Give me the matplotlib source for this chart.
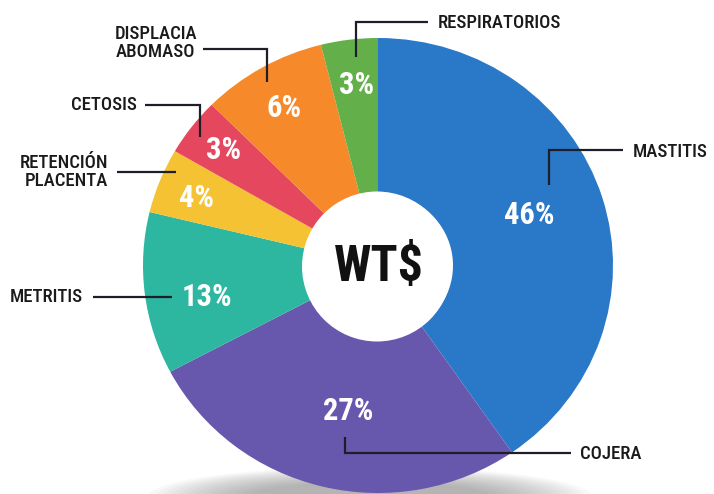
import matplotlib
matplotlib.use("Agg")
import matplotlib.pyplot as plt
from matplotlib.patches import Ellipse

# ---------------- data ----------------
categories = ["MASTITIS", "COJERA", "METRITIS", "RETENCIÓN\nPLACENTA",
              "CETOSIS", "DISPLACIA\nABOMASO", "RESPIRATORIOS"]
# printed percentages
percent_labels = [46, 27, 13, 4, 3, 6, 3]
# angular share of each slice as drawn in the picture (percent of the circle)
slice_shares = [40.3, 26.9, 11.5, 4.6, 4.1, 8.6, 3.9]
colors = ["#2a78c8", "#6858ad", "#2db6a0", "#f4c233", "#e5485e", "#f6892a", "#63b04b"]
center_text = "WT$"

# ---------------- layout (pixel coordinates of the 714x494 image) ----------------
W, H = 714, 494
r_h, r_v = 235.0, 227.5          # horizontal / vertical radii of the (slightly squashed) pie
k = r_v / r_h
cx, cy = 378.0, 265.5
hole_r = 75.0


def P(x, y):
    return x, (H - y) / k


pct_pos = [(529, 215), (348, 411), (207, 297), (197, 198), (224, 150), (284, 108), (357, 85)]

leaders = [
    [(549, 185), (549, 150), (623, 150)],
    [(345, 437), (345, 453), (571, 453)],
    [(93, 297), (172, 297)],
    [(117, 172), (176, 172)],
    [(145, 105), (200, 105), (200, 137)],
    [(203, 49), (267, 49), (267, 82)],
    [(356, 57), (356, 22), (428, 22)],
]
# (x, y, ha)
label_pos = [
    (633, 152, "left"),
    (580, 454, "left"),
    (83, 297, "right"),
    (108, 172, "right"),
    (137, 105, "right"),
    (197, 43, "right"),
    (438, 23, "left"),
]
label_align = ["left", "left", "right", "right", "right", "center", "left"]

FONT = ["Roboto Condensed", "PT Sans Narrow", "DejaVu Sans"]

fig = plt.figure(figsize=(W / 100, H / 100), dpi=100)
ax = fig.add_axes([0, 0, 1, 1])

# soft shadow under the pie
for i in range(14):
    f = i / 13.0
    e = Ellipse(P(370, 497), width=445 * (1 - 0.45 * f), height=(60 * (1 - 0.5 * f)) / k,
                facecolor="#7a7a7a", edgecolor="none", alpha=0.05, zorder=0)
    ax.add_patch(e)

wedges, _ = ax.pie(slice_shares, colors=colors, startangle=90, counterclock=False,
                   radius=r_h, center=P(cx, cy),
                   wedgeprops=dict(width=r_h - hole_r, edgecolor="none", linewidth=0),
                   frame=True)
for w in wedges:
    w.set_zorder(2)

# centre hole
ax.add_patch(Ellipse(P(cx - 1, cy + 1), 2 * hole_r, 2 * hole_r / k,
                     facecolor="white", edgecolor="none", zorder=3))
ax.text(*P(379, 268), center_text, ha="center", va="center", fontsize=36,
        fontweight="bold", color="#111111", family=FONT, zorder=4)

# percentage labels
for (x, y), v in zip(pct_pos, percent_labels):
    ax.text(*P(x, y), f"{v}%", ha="center", va="center", fontsize=22,
            fontweight="bold", color="white", family=FONT, zorder=5)

# leader lines and category labels
for pts in leaders:
    xs = [P(x, y)[0] for x, y in pts]
    ys = [P(x, y)[1] for x, y in pts]
    ax.plot(xs, ys, color="#1e1e2a", lw=1.6, solid_capstyle="butt",
            solid_joinstyle="miter", zorder=6)

for name, (x, y, ha), ma in zip(categories, label_pos, label_align):
    ax.text(*P(x, y), name, ha=ha, va="center", multialignment=ma,
            fontsize=13.5, fontweight=500, color="#1a1a1a", family=FONT,
            linespacing=1.0, zorder=6)

ax.set_aspect("auto")
ax.set_xlim(0, W)
ax.set_ylim(0, H / k)
ax.axis("off")

fig.savefig("out.png", dpi=100, facecolor="white")
